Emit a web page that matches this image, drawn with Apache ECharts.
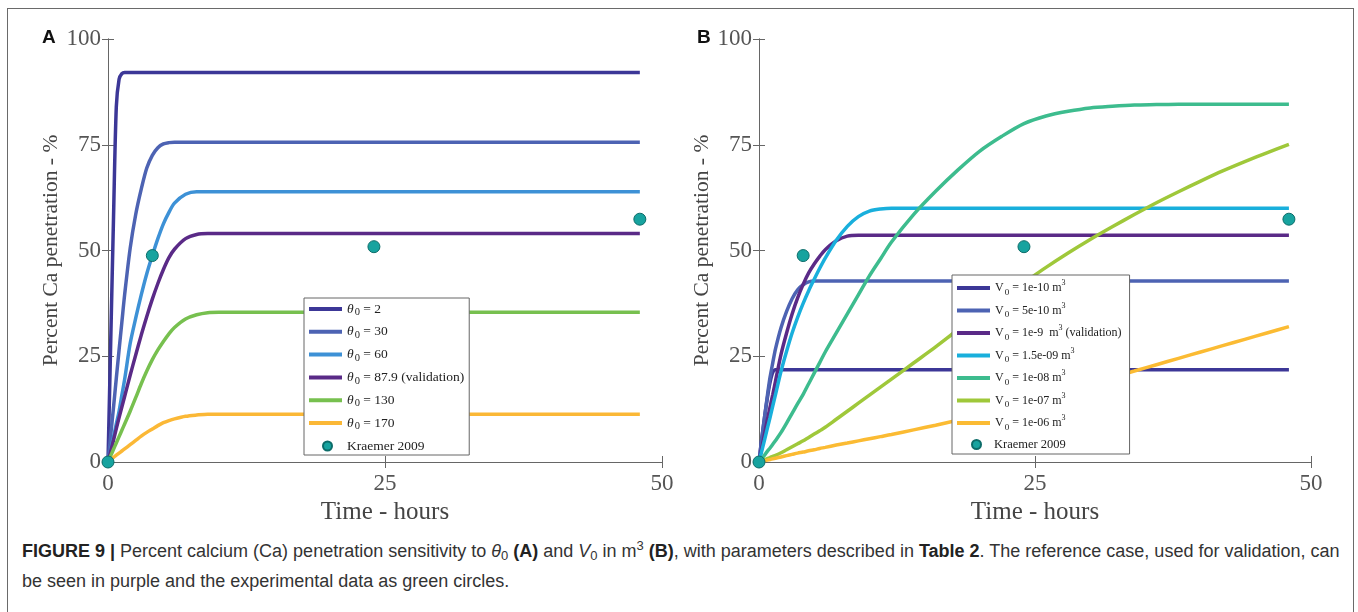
<!DOCTYPE html>
<html>
<head>
<meta charset="utf-8">
<script src="https://cdn.jsdelivr.net/npm/echarts@6/dist/echarts.min.js"></script>
<style>
  html, body { margin: 0; padding: 0; background: #fff; }
  body { width: 1358px; height: 612px; position: relative; overflow: hidden; }
  .frame { position: absolute; left: 7px; top: 8px; width: 1345px; height: 640px; border: 1.5px solid #6a6a6a; }
  #chart { position: absolute; left: 0; top: 0; width: 1358px; height: 530px; }
  .caption { position: absolute; left: 22px; top: 536px; width: 1334px; font-family: "Liberation Sans", Arial, sans-serif;
    font-size: 18px; line-height: 30px; color: #333; white-space: nowrap; }
  .caption b { color: #222; }
  .caption sub { font-size: 13px; vertical-align: -3px; line-height: 0; }
  .caption sup { font-size: 13px; vertical-align: 7px; line-height: 0; }
</style>
</head>
<body>
<div class="frame"></div>
<div id="chart"></div>
<div class="caption">
  <b>FIGURE 9 |</b> Percent calcium (Ca) penetration sensitivity to <i>θ</i><sub>0</sub> <b>(A)</b> and <i>V</i><sub>0</sub> in m<sup>3</sup> <b>(B)</b>, with parameters described in <b>Table 2</b>. The reference case, used for validation, can<br>
  be seen in purple and the experimental data as green circles.
</div>
<script>
// time samples (hours)
const hoursA = [0, 0.25, 0.5, 0.75, 1, 1.25, 1.5, 2, 2.5, 3, 3.5, 4, 4.5, 5, 5.5, 6, 7, 8, 9, 10, 11, 12, 48]
const hoursB = [0, 0.25, 0.5, 0.75, 1, 1.25, 1.5, 2, 2.5, 3, 3.5, 4, 4.5, 5, 5.5, 6, 7, 8, 9, 10, 11, 12,
  14, 16, 18, 20, 22, 24, 26, 28, 30, 32, 34, 36, 38, 40, 42, 44, 46, 48]

// panel A: theta0 sensitivity
const thetaNames = ['θ0 = 2', 'θ0 = 30', 'θ0 = 60', 'θ0 = 87.9 (validation)', 'θ0 = 130', 'θ0 = 170']
const thetaColors = ['#3c3797', '#4d63b3', '#3d91d6', '#5a2a87', '#77c04f', '#fbb836']
const theta2 = [0, 29, 58, 84, 90.5, 91.8, 92.1, 92.1, 92.1, 92.1, 92.1, 92.1, 92.1, 92.1, 92.1, 92.1, 92.1, 92.1, 92.1, 92.1, 92.1, 92.1, 92.1]
const theta30 = [0, 6.5, 13, 19.8, 26.5, 33, 39.5, 50.5, 58.5, 64.5, 69.5, 72.5, 74.3, 75.2, 75.5, 75.6, 75.6, 75.6, 75.6, 75.6, 75.6, 75.6, 75.6]
const theta60 = [0, 3, 6, 9, 12, 15.8, 19.5, 28, 34, 39.5, 44.5, 48.8, 52.8, 56.3, 59, 61.2, 63.3, 63.9, 63.9, 63.9, 63.9, 63.9, 63.9]
const theta88 = [0, 2.6, 5.2, 7.9, 10.5, 13, 15.5, 20.5, 25.3, 30, 34.4, 38.5, 42.2, 45.5, 48.3, 50.3, 52.8, 53.8, 54, 54, 54, 54, 54]
const theta130 = [0, 1.5, 3, 4.5, 6, 7.5, 9, 12, 15.2, 18.5, 21.5, 24.2, 26.5, 28.5, 30.3, 31.8, 33.8, 34.8, 35.3, 35.4, 35.4, 35.4, 35.4]
const theta170 = [0, 0.55, 1.1, 1.6, 2.1, 2.6, 3.1, 4.1, 5.1, 6.1, 7, 7.8, 8.6, 9.3, 9.8, 10.2, 10.8, 11.1, 11.3, 11.3, 11.3, 11.3, 11.3]
const thetaValues = [theta2, theta30, theta60, theta88, theta130, theta170]

// panel B: V0 sensitivity
const volNames = ['V0 = 1e-10 m3', 'V0 = 5e-10 m3', 'V0 = 1e-9  m3 (validation)', 'V0 = 1.5e-09 m3', 'V0 = 1e-08 m3', 'V0 = 1e-07 m3', 'V0 = 1e-06 m3']
const volColors = ['#3c3797', '#4d63b3', '#5a2a87', '#19afdc', '#3dbc8e', '#9fc83a', '#fbbb33']
const vol1e10 = [0, 5.5, 10.5, 15, 18.8, 21.2, 21.8, 21.8, 21.8, 21.8, 21.8, 21.8, 21.8, 21.8, 21.8, 21.8, 21.8, 21.8, 21.8, 21.8, 21.8, 21.8,
  21.8, 21.8, 21.8, 21.8, 21.8, 21.8, 21.8, 21.8, 21.8, 21.8, 21.8, 21.8, 21.8, 21.8, 21.8, 21.8, 21.8, 21.8]
const vol5e10 = [0, 5.5, 10.5, 15.5, 20, 23.5, 26.8, 31.8, 35.6, 38.6, 40.7, 41.9, 42.6, 42.8, 42.8, 42.8, 42.8, 42.8, 42.8, 42.8, 42.8, 42.8,
  42.8, 42.8, 42.8, 42.8, 42.8, 42.8, 42.8, 42.8, 42.8, 42.8, 42.8, 42.8, 42.8, 42.8, 42.8, 42.8, 42.8, 42.8]
const vol1e9 = [0, 3.3, 6.6, 9.9, 13, 16, 19.2, 25.5, 30.5, 35, 38.8, 42, 44.7, 46.8, 48.6, 50.2, 52.3, 53.4, 53.6, 53.6, 53.6, 53.6,
  53.6, 53.6, 53.6, 53.6, 53.6, 53.6, 53.6, 53.6, 53.6, 53.6, 53.6, 53.6, 53.6, 53.6, 53.6, 53.6, 53.6, 53.6]
const vol15e9 = [0, 2.6, 5.2, 7.9, 10.5, 13.3, 16, 21.5, 26.2, 30.5, 34.2, 37.5, 40.5, 43.2, 45.8, 48.2, 52.4, 55.7, 58, 59.3, 59.8, 60,
  60, 60, 60, 60, 60, 60, 60, 60, 60, 60, 60, 60, 60, 60, 60, 60, 60, 60]
const vol1e8 = [0, 0.8, 1.6, 2.5, 3.3, 4.2, 5.1, 7, 9.2, 11.5, 13.8, 16, 18.5, 21, 23.5, 26, 30.5, 35, 39.5, 44, 48, 52,
  58.5, 64, 69, 73.5, 77, 80, 81.8, 82.9, 83.7, 84.1, 84.4, 84.5, 84.6, 84.6, 84.6, 84.6, 84.6, 84.6]
const vol1e7 = [0, 0.25, 0.5, 0.8, 1.05, 1.35, 1.6, 2.2, 2.9, 3.6, 4.3, 5, 5.8, 6.6, 7.4, 8.2, 10.1, 12, 13.9, 15.8, 17.7, 19.6,
  23.4, 27.2, 31.2, 35, 38.8, 42.4, 46, 49.4, 52.6, 55.6, 58.5, 61.3, 63.9, 66.4, 68.8, 71, 73.1, 75.1]
const vol1e6 = [0, 0.15, 0.3, 0.45, 0.6, 0.75, 0.9, 1.2, 1.5, 1.8, 2.1, 2.35, 2.65, 2.9, 3.2, 3.45, 4, 4.5, 5, 5.5, 6, 6.5,
  7.6, 8.7, 9.9, 11.2, 12.6, 14, 15.4, 16.9, 18.4, 20, 21.5, 23, 24.5, 26, 27.5, 29, 30.5, 32]
const volValues = [vol1e10, vol5e10, vol1e9, vol15e9, vol1e8, vol1e7, vol1e6]

// experimental data (Kraemer 2009)
const kraemerHours = [0, 4, 24, 48]
const kraemerPct = [0, 48.8, 50.9, 57.4]

const xTicks = [0, 25, 50]
const yTicks = [0, 25, 50, 75, 100]

const serif = '"Liberation Serif", "Times New Roman", serif'
const axisGrey = '#666'

const chart = echarts.init(document.getElementById('chart'), null, { renderer: 'canvas' })

const baseX = (gridIndex) => ({
  type: 'value', gridIndex, min: xTicks[0], max: xTicks[xTicks.length - 1], interval: xTicks[1] - xTicks[0],
  axisLine: { show: true, lineStyle: { color: axisGrey, width: 1 } },
  axisTick: { show: true, inside: true, length: 6, lineStyle: { color: axisGrey } },
  splitLine: { show: false }
})
const baseY = (gridIndex) => ({
  type: 'value', gridIndex, min: yTicks[0], max: yTicks[yTicks.length - 1], interval: yTicks[1] - yTicks[0],
  axisLine: { show: true, lineStyle: { color: axisGrey, width: 1 } },
  axisTick: { show: true, inside: true, length: 6, lineStyle: { color: axisGrey } },
  splitLine: { show: false }
})

const xAxes = []
const yAxes = []
;[0, 1].forEach(g => {
  xAxes.push(Object.assign(baseX(g), {
    position: 'bottom',
    axisLabel: { fontFamily: serif, fontSize: 23, color: '#555', margin: 10 },
    name: 'Time - hours', nameLocation: 'middle', nameGap: 38,
    nameTextStyle: { fontFamily: serif, fontSize: 25, color: '#444' }
  }))
  xAxes.push(Object.assign(baseX(g), { position: 'top', axisLabel: { show: false } }))
  yAxes.push(Object.assign(baseY(g), {
    position: 'left',
    axisLabel: { fontFamily: serif, fontSize: 23, color: '#555', margin: 7 },
    name: 'Percent Ca penetration - %', nameLocation: 'middle', nameGap: 46,
    nameTextStyle: { fontFamily: serif, fontSize: 21.5, color: '#444' }
  }))
  yAxes.push(Object.assign(baseY(g), { position: 'right', axisLabel: { show: false } }))
})

// legend label markup: subscript 0 and superscript 3
const legendLabel = name => {
  if (name.startsWith('θ0')) return '{it|θ}{sub|0}{t|' + name.slice(2) + '}'
  if (name.startsWith('V0')) return '{t|V}{sub|0}{t|' + name.slice(2).replace(' m3', ' m}{sup|3}{t|') + '}'
  return '{t|' + name + '}'
}
const richText = (size) => ({
  t: { fontFamily: serif, fontSize: size, color: '#222', lineHeight: 18 },
  it: { fontFamily: serif, fontSize: size, fontStyle: 'italic', color: '#222', lineHeight: 18 },
  sub: { fontFamily: serif, fontSize: size - 3, color: '#222', lineHeight: 10, verticalAlign: 'bottom', padding: [4, 0, 0, 1] },
  sup: { fontFamily: serif, fontSize: size - 4, color: '#222', lineHeight: 9, verticalAlign: 'top', padding: [0, 0, 3, 0] }
})

const lineSeries = (names, values, colors, hours, g) => names.map((name, i) => ({
  name, type: 'line', xAxisIndex: g * 2, yAxisIndex: g * 2,
  data: hours.map((h, k) => [h, values[i][k]]),
  showSymbol: false, smooth: 0.3,
  lineStyle: { color: colors[i], width: 3.5 }, itemStyle: { color: colors[i] }
}))
const dotSeries = g => ({
  name: 'Kraemer 2009', type: 'scatter', xAxisIndex: g * 2, yAxisIndex: g * 2,
  data: kraemerHours.map((h, k) => [h, kraemerPct[k]]),
  symbolSize: 12,
  itemStyle: { color: '#17a39f', borderColor: '#0c6c69', borderWidth: 1, opacity: 1 },
  z: 4
})

const option = {
  animation: false,
  title: [
    { text: 'A', left: 37, top: 23, textStyle: { fontFamily: '"Liberation Sans", Arial, sans-serif', fontSize: 19, fontWeight: 'bold', color: '#111' } },
    { text: 'B', left: 692, top: 23, textStyle: { fontFamily: '"Liberation Sans", Arial, sans-serif', fontSize: 19, fontWeight: 'bold', color: '#111' } }
  ],
  grid: [
    { left: 108, top: 39, width: 554, height: 428 },
    { left: 759, top: 39, width: 552, height: 427 }
  ],
  xAxis: xAxes,
  yAxis: yAxes,
  legend: [
    {
      data: thetaNames, orient: 'vertical', left: 304, top: 298, selectedMode: false,
      icon: 'rect', itemWidth: 33, itemHeight: 4, itemGap: 6.8,
      padding: [4, 5, 23, 5], backgroundColor: '#fff', borderColor: '#666', borderWidth: 1,
      formatter: legendLabel, textStyle: { rich: richText(13.5) }, z: 6
    },
    {
      data: [{ name: 'Kraemer 2009', icon: 'circle' }], orient: 'vertical', left: 322, top: 439, selectedMode: false,
      itemWidth: 9, itemHeight: 9, padding: 0,
      textStyle: { fontFamily: serif, fontSize: 13.5, color: '#222', padding: [0, 0, 0, 10] }, z: 7
    },
    {
      data: volNames, orient: 'vertical', left: 952, top: 275, selectedMode: false,
      icon: 'rect', itemWidth: 33, itemHeight: 4, itemGap: 4.5,
      padding: [4, 8, 22, 5], backgroundColor: '#fff', borderColor: '#666', borderWidth: 1,
      formatter: legendLabel, textStyle: { rich: richText(12) }, z: 6
    },
    {
      data: [{ name: 'Kraemer 2009', icon: 'circle' }], orient: 'vertical', left: 971, top: 438, selectedMode: false,
      itemWidth: 9, itemHeight: 9, padding: 0,
      textStyle: { fontFamily: serif, fontSize: 12.5, color: '#222', padding: [0, 0, 0, 8] }, z: 7
    }
  ],
  series: [
    ...lineSeries(thetaNames, thetaValues, thetaColors, hoursA, 0),
    dotSeries(0),
    ...lineSeries(volNames, volValues, volColors, hoursB, 1),
    dotSeries(1)
  ]
}

chart.setOption(option)
window.addEventListener('resize', () => chart.resize())
</script>
</body>
</html>
